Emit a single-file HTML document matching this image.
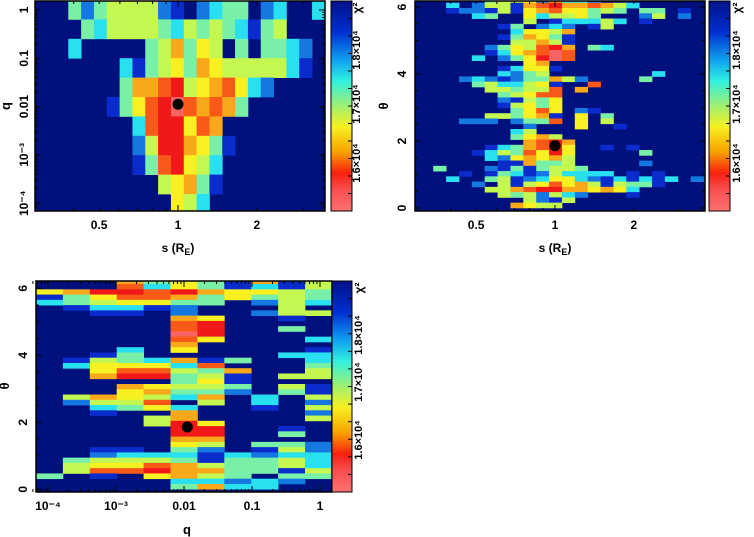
<!DOCTYPE html>
<html><head><meta charset="utf-8"><style>
html,body{margin:0;padding:0;background:#fff;}
svg{display:block;font-family:"Liberation Sans",sans-serif;font-weight:bold;}
</style></head><body>
<svg id="chart" width="754" height="537" viewBox="0 0 754 537" xmlns="http://www.w3.org/2000/svg">
<defs>
<linearGradient id="cbar" x1="0" y1="0" x2="0" y2="1">
<stop offset="0" stop-color="#00108a"/><stop offset="0.15" stop-color="#0030d0"/>
<stop offset="0.28" stop-color="#10a0f0"/><stop offset="0.38" stop-color="#30f0e0"/>
<stop offset="0.5" stop-color="#a0f070"/><stop offset="0.6" stop-color="#f8f020"/>
<stop offset="0.72" stop-color="#f8a000"/><stop offset="0.82" stop-color="#f82010"/>
<stop offset="0.9" stop-color="#f85050"/><stop offset="1" stop-color="#ff7070"/>
</linearGradient>
</defs>
</svg>
<script>
// ---- data ----
const p1Rows = [
"00042455552102344023003","00004355554354543145000","00030000045746504044320",
"00000003145647655555310","00000004778956786320000","00000014689P87874000000",
"00000000389968700000000","00000000259976410000000","00000000148965300000000",
"00000000005674100000000","00000000000653000000000"];
const p2Rows = [
"00000045562733200000000","00030255178977875300000","00012215167866454044010",
"00000340063556400025020","00000000050133353010000","00000001402320150000000",
"00000000366570000000000","00000001476410000000000","00000000557510000000000",
"00000024658970430000000","00000013678P80000000000","00000302469P80000000000",
"00000000067000000000000","00000001366100000000000","00000003245000000003000",
"00002321244752000040000","00000453356100800000000","00000055455807000000000",
"00000004568800000000000","00000002154600000000000","00000001564600000000000",
"00000000468602100000000","00000055467106040000000","00002220244806050000000",
"00000000020006001000000","00000000350000000000000","00000000467500000000000",
"00000000078970000000000","00000013478960010100000","00000135486960000040000",
"00000032676750000000000","00000001174450000020000","00400021414554000000000",
"00001014312533330101000","00030045123663213131302","00000205156867515441000",
"00000055789977676300000","00000005452532000100000","00000000052150000000000",
"00000000765500000000000"];
const p3Rows = [
"00074641715","00083641315","67998976654","14688746454","34566440253",
"01331200050","00110200255","00000760010","00000890000","00000890040",
"00000P90000","00000860003","00000700000","00030600001","00140000033",
"01543714003","03666380004","00688547005","00799451055","00000461000",
"00076554051","00067442041","05765370305","02558050302","00346300105",
"00100700002","00005700005","00005960000","00000990010","00000990040",
"00000770000","00000650442","00110420152","00233313233","04555414453",
"05668754453","05889774415","40106754044","00000332320","00000473300"];
const p1YTicks = ["1","0.1","0.01","10⁻³","10⁻⁴"];
const p1YVals = [1,0.1,0.01,0.001,0.0001];
const sTicks = ["0.5","1","2"];
const sVals = [0.5,1,2];
const thTicks = ["0","2","4","6"];
const thVals = [0,2,4,6];
const qTicks = ["10⁻⁴","10⁻³","0.01","0.1","1"];
const qVals = [0.0001,0.001,0.01,0.1,1];
const cbLabels = ["1.8×10⁴","1.7×10⁴","1.6×10⁴"];
const bestS = [1.0];
const bestQ = [0.0112];
const bestTh = [1.86];

const palette = {"0":"#00107c","1":"#0a2ccc","2":"#1478e0","3":"#28e0f0","4":"#78f0a8",
"5":"#c4f850","6":"#f8f020","7":"#f8a818","8":"#f85818","9":"#f01818","P":"#f86464"};
const NS="http://www.w3.org/2000/svg";
const svg=document.getElementById('chart');
function el(tag,attrs,parent){const e=document.createElementNS(NS,tag);for(const k in attrs)e.setAttribute(k,attrs[k]);(parent||svg).appendChild(e);return e;}

// axis functions
const sX1 = s => 178 + 262*Math.log10(s);
const sX2 = s => 555 + 262*Math.log10(s);
const qY1 = q => 10 - 48.3*Math.log10(q);
const qX3 = q => 320 + 68*Math.log10(q);
const thY2 = t => 208 - 33.5*t;
const thY3 = t => 489.3 - 33.5*t;

function panel(name,px,py,pw,ph,rows,x0,cw,y0,rh){
  const g=el('g',{});
  
  
  const cid='clip-'+name;
  const cp=el('clipPath',{id:cid},g);el('rect',{x:px,y:py,width:pw,height:ph},cp);
  const cells=el('g',{'clip-path':'url(#'+cid+')'},g);
  el('rect',{x:px,y:py,width:pw,height:ph,fill:palette["0"]},cells);
  rows.forEach((row,r)=>{for(let c=0;c<row.length;c++){const v=row[c];if(v==="0")continue;
    const rc=el('rect',{x:(x0+c*cw).toFixed(2),y:(y0+r*rh).toFixed(2),width:(cw+0.4).toFixed(2),height:(rh+0.4).toFixed(2),fill:palette[v]},cells);
    
    }});
  el('rect',{x:px,y:py,width:pw,height:ph,fill:'none',stroke:'#000','stroke-width':1.5},g);
  return g;
}
function tick(g,x1,y1,x2,y2,w){el('line',{x1,y1,x2,y2,stroke:'#000','stroke-width':w||1},g);}
function text(g,x,y,str,rot,size,name){const t=el('text',{x,y,'font-size':size||12,'text-anchor':'middle'},g);
  if(rot)t.setAttribute('transform','rotate(-90 '+x+' '+y+')');t.textContent=str;
  
  return t;}
function sTitle(g,x,y){const t=el('text',{x,y,'font-size':12,'text-anchor':'middle'},g);
  
  
  t.appendChild(document.createTextNode('s (R'));
  const sub=el('tspan',{'font-size':9,dy:3},t);sub.textContent='E';
  const cl=el('tspan',{dy:-3},t);cl.textContent=')';}
function colorbar(x,y,w,h,labelX,labelYs,chiY,name){
  const g=el('g',{});
  
  
  el('rect',{x,y,width:w,height:h,fill:'url(#cbar)',stroke:'#000','stroke-width':1},g);
  for(let i=1;i<12;i++){tick(g,x+w-4,y+h*i/12,x+w,y+h*i/12);}
  labelYs.forEach((ly,i)=>{text(g,labelX,ly,cbLabels[i],true,11,'colorbar-label');});
  text(g,labelX+1,chiY,'χ²',true,12,'colorbar-title');
}
function logMinor(g,fn,lo,hi,horizontal,a,b,len){
  for(let d=Math.floor(Math.log10(lo));d<=Math.ceil(Math.log10(hi));d++)for(let m=1;m<10;m++){
    const v=m*Math.pow(10,d);if(v<lo||v>hi)continue;const p=fn(v);const L=m===1?len*2:len;
    if(horizontal){tick(g,p,a,p,a-L);tick(g,p,b,p,b+L);}else{tick(g,a,p,a+L,p);tick(g,b,p,b-L,p);}
  }
}

// ---- Panel 1: q vs s ----
const g1=panel('panel-q-vs-s',35,1,290,210,p1Rows,29.8,12.83,0,19.4);
logMinor(g1,qY1,0.00008,1.2,false,35,325,3);
logMinor(g1,sX1,0.36,3.3,true,211,1,3);
p1YVals.forEach((v,i)=>text(g1,28,qY1(v),p1YTicks[i],true,12,'y-tick-label'));
sVals.forEach((v,i)=>text(g1,sX1(v),229,sTicks[i],false,12,'x-tick-label'));
sTitle(g1,178,252);
text(g1,10,106,'q',true,13,'y-axis-title');
bestS.forEach((s,i)=>{const d=el('circle',{cx:sX1(s),cy:qY1(bestQ[i]),r:5.5,fill:'#000'},g1);
 });
colorbar(331,1,21,210,360,[50,104,163],8,'colorbar-1');

// ---- Panel 2: theta vs s ----
const g2=panel('panel-theta-vs-s',415,1,290,210,p2Rows,407.5,12.87,-2.5,5.26);
logMinor(g2,sX2,0.36,3.3,true,211,1,3);
for(let t=0;t<=6.3;t+=0.5){const y=thY2(t);const L=(t%2===0)?6:3;tick(g2,415,y,415+L,y);tick(g2,705,y,705-L,y);}
thVals.forEach((v,i)=>text(g2,406,thY2(v),thTicks[i],true,12,'y-tick-label'));
sVals.forEach((v,i)=>text(g2,sX2(v),229,sTicks[i],false,12,'x-tick-label'));
sTitle(g2,555,252);
text(g2,388,106,'θ',true,13,'y-axis-title');
bestS.forEach((s,i)=>{const d=el('circle',{cx:sX2(s),cy:thY2(bestTh[i]),r:5.5,fill:'#000'},g2);
 });
colorbar(709,1,21,210,740,[50,104,163],8,'colorbar-2');

// ---- Panel 3: theta vs q ----
const g3=panel('panel-theta-vs-q',36,281,296,211,p3Rows,36,26.9,278.8,5.26);
logMinor(g3,qX3,0.00006,2.2,true,492,281,3);
for(let t=0;t<=6.3;t+=0.5){const y=thY3(t);const L=(t%2===0)?6:3;tick(g3,36,y,36+L,y);}
thVals.forEach((v,i)=>text(g3,27,thY3(v),thTicks[i],true,12,'y-tick-label'));
qVals.forEach((v,i)=>text(g3,qX3(v),510,qTicks[i],false,12,'x-tick-label'));
text(g3,187,534,'q',false,13,'x-axis-title');
text(g3,9,386,'θ',true,13,'y-axis-title');
bestQ.forEach((q,i)=>{const d=el('circle',{cx:qX3(q),cy:thY3(bestTh[i]),r:5.5,fill:'#000'},g3);
 });
colorbar(332,281,20,211,362,[335,382,440],288,'colorbar-3');
</script>
</body></html>
